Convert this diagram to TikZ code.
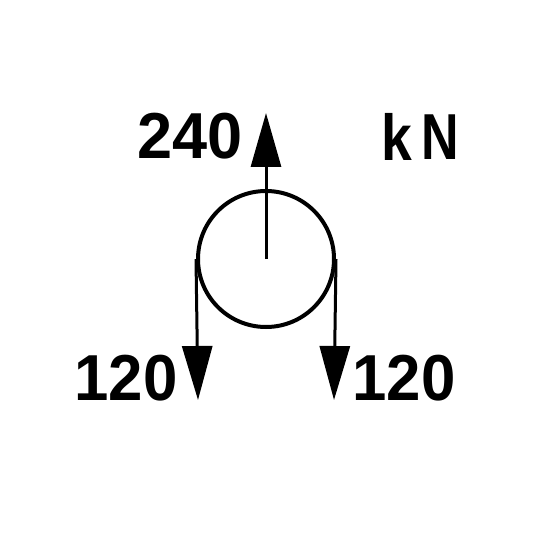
\documentclass[tikz,border=0pt]{standalone}
\usepackage{fontspec}
\setmainfont{Liberation Sans}
\usetikzlibrary{arrows.meta}
\begin{document}
\begin{tikzpicture}[x=1pt,y=-1pt,
  force/.style={line width=3pt,-{Triangle[length=54pt,width=30pt]}},
  lbl/.style={inner sep=0pt,font=\fontsize{65}{65}\selectfont\bfseries}]
\useasboundingbox[fill=white] (0,0) rectangle (540,540);
\node[draw,circle,line width=4pt,minimum size=136pt,inner sep=0pt] (c) at (266,259) {};
\coordinate (up) at (266,113);
\coordinate (dl) at (198,400);
\coordinate (dr) at (334,400);
\draw[force] (c.center) -- (up);
\draw[force] (c.west) -- (dl);
\draw[force] (c.east) -- (dr);
\node[lbl,xscale=0.97] (t240) at (190,136) {240};
\node[lbl,xscale=0.95] (tl) at (126,378) {120};
\node[lbl,xscale=0.95] (tr) at (404,378) {120};
\node[lbl,xscale=0.85] (tk) at (397,137) {k};
\node[lbl,xscale=0.8] (tn) at (440,137) {N};
\end{tikzpicture}
\end{document}
